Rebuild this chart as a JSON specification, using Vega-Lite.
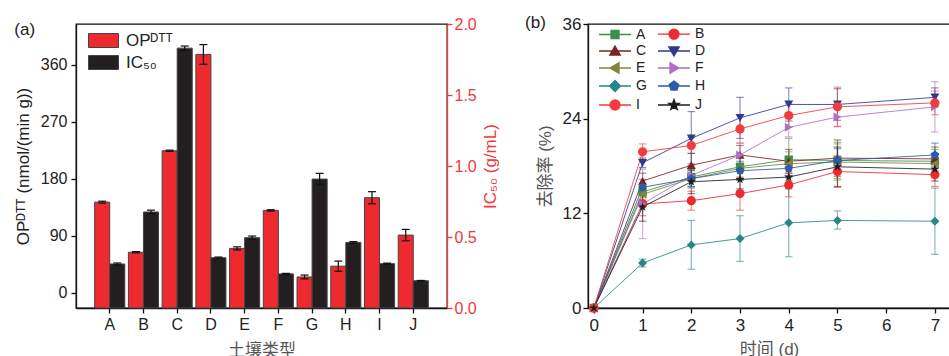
{
  "$schema": "https://vega.github.io/schema/vega-lite/v6.json",
  "padding": {"left": 13, "top": 13, "right": 0, "bottom": 0},
  "config": {
    "font": "Liberation Sans, Noto Sans CJK SC",
    "view": {"stroke": "#111", "strokeWidth": 1.3},
    "axis": {"labelFont": "Liberation Sans, Noto Sans CJK SC", "titleFont": "Liberation Sans, Noto Sans CJK SC", "labelFontSize": 16, "titleFontSize": 17, "titleFontWeight": "normal", "labelColor": "#222", "titleColor": "#222", "domainColor": "#111", "tickColor": "#111", "domainWidth": 1.3, "tickWidth": 1.3, "tickSize": 5, "grid": false},
    "legend": {"labelFont": "Liberation Sans, Noto Sans CJK SC", "labelColor": "#222", "padding": 0},
    "title": {"font": "Liberation Sans", "fontSize": 17, "fontWeight": "normal", "color": "#222"}
  },
  "datasets": {
    "bars": [
      {"soil": "A", "series": "OPᴰᵀᵀ", "v": 143, "lo": 141.5, "hi": 144.5},
      {"soil": "A", "series": "IC₅₀", "v": 0.31, "lo": 0.303, "hi": 0.317},
      {"soil": "B", "series": "OPᴰᵀᵀ", "v": 64, "lo": 63, "hi": 65},
      {"soil": "B", "series": "IC₅₀", "v": 0.676, "lo": 0.663, "hi": 0.689},
      {"soil": "C", "series": "OPᴰᵀᵀ", "v": 224, "lo": 223, "hi": 225},
      {"soil": "C", "series": "IC₅₀", "v": 1.83, "lo": 1.815, "hi": 1.845},
      {"soil": "D", "series": "OPᴰᵀᵀ", "v": 376, "lo": 360.5, "hi": 391.5},
      {"soil": "D", "series": "IC₅₀", "v": 0.354, "lo": 0.349, "hi": 0.359},
      {"soil": "E", "series": "OPᴰᵀᵀ", "v": 70, "lo": 67.5, "hi": 72.5},
      {"soil": "E", "series": "IC₅₀", "v": 0.495, "lo": 0.483, "hi": 0.507},
      {"soil": "F", "series": "OPᴰᵀᵀ", "v": 130, "lo": 129, "hi": 131},
      {"soil": "F", "series": "IC₅₀", "v": 0.24, "lo": 0.236, "hi": 0.244},
      {"soil": "G", "series": "OPᴰᵀᵀ", "v": 25, "lo": 22, "hi": 28},
      {"soil": "G", "series": "IC₅₀", "v": 0.908, "lo": 0.868, "hi": 0.948},
      {"soil": "H", "series": "OPᴰᵀᵀ", "v": 42, "lo": 34, "hi": 50},
      {"soil": "H", "series": "IC₅₀", "v": 0.462, "lo": 0.456, "hi": 0.468},
      {"soil": "I", "series": "OPᴰᵀᵀ", "v": 150, "lo": 140.5, "hi": 159.5},
      {"soil": "I", "series": "IC₅₀", "v": 0.312, "lo": 0.308, "hi": 0.316},
      {"soil": "J", "series": "OPᴰᵀᵀ", "v": 91, "lo": 82, "hi": 100},
      {"soil": "J", "series": "IC₅₀", "v": 0.192, "lo": 0.19, "hi": 0.194}
    ],
    "rem": [
      {"s": "A", "day": 0, "v": 0, "lo": 0, "hi": 0},
      {"s": "A", "day": 1, "v": 14.7, "lo": 13.7, "hi": 15.7},
      {"s": "A", "day": 2, "v": 16.6, "lo": 15.4, "hi": 17.8},
      {"s": "A", "day": 3, "v": 17.9, "lo": 16.4, "hi": 19.4},
      {"s": "A", "day": 4, "v": 18.8, "lo": 16.1, "hi": 21.5},
      {"s": "A", "day": 5, "v": 18.7, "lo": 16.4, "hi": 21.0},
      {"s": "A", "day": 7, "v": 18.6, "lo": 17.1, "hi": 20.1},
      {"s": "B", "day": 0, "v": 0, "lo": 0, "hi": 0},
      {"s": "B", "day": 1, "v": 13.2, "lo": 11.7, "hi": 14.7},
      {"s": "B", "day": 2, "v": 13.6, "lo": 12.4, "hi": 14.8},
      {"s": "B", "day": 3, "v": 14.5, "lo": 12.4, "hi": 16.6},
      {"s": "B", "day": 4, "v": 15.6, "lo": 14.1, "hi": 17.1},
      {"s": "B", "day": 5, "v": 17.3, "lo": 15.3, "hi": 19.3},
      {"s": "B", "day": 7, "v": 16.9, "lo": 15.4, "hi": 18.4},
      {"s": "C", "day": 0, "v": 0, "lo": 0, "hi": 0},
      {"s": "C", "day": 1, "v": 16.1, "lo": 15.1, "hi": 17.1},
      {"s": "C", "day": 2, "v": 18.1, "lo": 16.6, "hi": 19.6},
      {"s": "C", "day": 3, "v": 19.4, "lo": 18.2, "hi": 20.6},
      {"s": "C", "day": 4, "v": 18.6, "lo": 17.1, "hi": 20.1},
      {"s": "C", "day": 5, "v": 19.0, "lo": 16.7, "hi": 21.3},
      {"s": "C", "day": 7, "v": 18.9, "lo": 17.4, "hi": 20.4},
      {"s": "D", "day": 0, "v": 0, "lo": 0, "hi": 0},
      {"s": "D", "day": 1, "v": 18.4, "lo": 17.8, "hi": 19.0},
      {"s": "D", "day": 2, "v": 21.5, "lo": 18.1, "hi": 24.9},
      {"s": "D", "day": 3, "v": 24.1, "lo": 21.5, "hi": 26.7},
      {"s": "D", "day": 4, "v": 25.8, "lo": 23.7, "hi": 27.9},
      {"s": "D", "day": 5, "v": 25.8, "lo": 23.8, "hi": 27.8},
      {"s": "D", "day": 7, "v": 26.7, "lo": 25.5, "hi": 27.9},
      {"s": "E", "day": 0, "v": 0, "lo": 0, "hi": 0},
      {"s": "E", "day": 1, "v": 14.4, "lo": 13.4, "hi": 15.4},
      {"s": "E", "day": 2, "v": 16.4, "lo": 15.2, "hi": 17.6},
      {"s": "E", "day": 3, "v": 17.7, "lo": 16.2, "hi": 19.2},
      {"s": "E", "day": 4, "v": 18.3, "lo": 16.8, "hi": 19.8},
      {"s": "E", "day": 5, "v": 18.5, "lo": 16.2, "hi": 20.8},
      {"s": "E", "day": 7, "v": 18.3, "lo": 17.1, "hi": 19.5},
      {"s": "F", "day": 0, "v": 0, "lo": 0, "hi": 0},
      {"s": "F", "day": 1, "v": 13.2, "lo": 8.8, "hi": 17.6},
      {"s": "F", "day": 2, "v": 16.8, "lo": 15.3, "hi": 18.3},
      {"s": "F", "day": 3, "v": 19.4, "lo": 17.9, "hi": 20.9},
      {"s": "F", "day": 4, "v": 22.9, "lo": 21.7, "hi": 24.1},
      {"s": "F", "day": 5, "v": 24.2, "lo": 23.0, "hi": 25.4},
      {"s": "F", "day": 7, "v": 25.5, "lo": 22.3, "hi": 28.7},
      {"s": "G", "day": 0, "v": 0, "lo": 0, "hi": 0},
      {"s": "G", "day": 1, "v": 5.7, "lo": 5.2, "hi": 6.2},
      {"s": "G", "day": 2, "v": 8.0, "lo": 4.9, "hi": 11.1},
      {"s": "G", "day": 3, "v": 8.8, "lo": 5.9, "hi": 11.7},
      {"s": "G", "day": 4, "v": 10.8, "lo": 6.5, "hi": 15.1},
      {"s": "G", "day": 5, "v": 11.1, "lo": 10.0, "hi": 12.3},
      {"s": "G", "day": 7, "v": 11.0, "lo": 6.8, "hi": 15.2},
      {"s": "H", "day": 0, "v": 0, "lo": 0, "hi": 0},
      {"s": "H", "day": 1, "v": 15.3, "lo": 14.3, "hi": 16.3},
      {"s": "H", "day": 2, "v": 16.4, "lo": 15.4, "hi": 17.4},
      {"s": "H", "day": 3, "v": 17.4, "lo": 16.2, "hi": 18.6},
      {"s": "H", "day": 4, "v": 17.7, "lo": 16.5, "hi": 18.9},
      {"s": "H", "day": 5, "v": 18.7, "lo": 17.2, "hi": 20.2},
      {"s": "H", "day": 7, "v": 19.4, "lo": 17.9, "hi": 20.9},
      {"s": "I", "day": 0, "v": 0, "lo": 0, "hi": 0},
      {"s": "I", "day": 1, "v": 19.8, "lo": 18.8, "hi": 20.8},
      {"s": "I", "day": 2, "v": 20.6, "lo": 19.6, "hi": 21.6},
      {"s": "I", "day": 3, "v": 22.7, "lo": 20.9, "hi": 24.5},
      {"s": "I", "day": 4, "v": 24.4, "lo": 22.9, "hi": 25.9},
      {"s": "I", "day": 5, "v": 25.5, "lo": 23.0, "hi": 28.0},
      {"s": "I", "day": 7, "v": 26.0, "lo": 24.5, "hi": 27.5},
      {"s": "J", "day": 0, "v": 0, "lo": 0, "hi": 0},
      {"s": "J", "day": 1, "v": 12.8, "lo": 11.0, "hi": 14.6},
      {"s": "J", "day": 2, "v": 16.0, "lo": 14.5, "hi": 17.5},
      {"s": "J", "day": 3, "v": 16.3, "lo": 15.1, "hi": 17.5},
      {"s": "J", "day": 4, "v": 16.6, "lo": 15.4, "hi": 17.8},
      {"s": "J", "day": 5, "v": 17.9, "lo": 15.4, "hi": 20.4},
      {"s": "J", "day": 7, "v": 17.6, "lo": 16.1, "hi": 19.1}
    ]
  },
  "spacing": 25,
  "resolve": {"scale": {"color": "independent", "shape": "independent", "stroke": "independent"}},
  "hconcat": [
    {
      "width": 371,
      "height": 284,
      "title": {"text": "(a)", "anchor": "start", "frame": "bounds", "offset": 0, "dy": 23},
      "data": {"name": "bars"},
      "encoding": {
        "x": {"field": "soil", "type": "nominal", "scale": {"paddingInner": 0, "paddingOuter": 0.5}, "axis": {"title": "土壤类型", "labelAngle": 0, "bandPosition": 0.5, "labelPadding": 3, "titlePadding": 10, "titleColor": "#555"}},
        "xOffset": {"field": "series", "type": "nominal", "scale": {"domain": ["OPᴰᵀᵀ", "IC₅₀"], "paddingInner": 0, "paddingOuter": 0.12}}
      },
      "layer": [
        {
          "transform": [{"filter": "datum.series === 'OPᴰᵀᵀ'"}],
          "mark": {"type": "bar", "stroke": "#444", "strokeWidth": 1},
          "encoding": {
            "y": {"field": "v", "type": "quantitative", "scale": {"domain": [-24, 424], "nice": false, "zero": false}, "axis": {"title": "OPᴰᵀᵀ (nmol/(min g))", "values": [0, 90, 180, 270, 360], "labelPadding": 4, "titlePadding": 8}},
            "y2": {"datum": -24},
            "color": {"field": "series", "type": "nominal", "scale": {"domain": ["OPᴰᵀᵀ", "IC₅₀"], "range": ["#ee2a2e", "#231f20"]},
              "legend": {"title": null, "orient": "none", "legendX": 19, "legendY": 8, "symbolType": "M-2.143,-1H2.143V1H-2.143Z", "symbolSize": 196, "labelFontSize": 17, "labelOffset": 14, "rowPadding": 3, "symbolStrokeColor": "#444", "symbolStrokeWidth": 1}}
          }
        },
        {
          "transform": [{"filter": "datum.series === 'OPᴰᵀᵀ'"}],
          "mark": {"type": "rule", "color": "#111", "strokeWidth": 1.2},
          "encoding": {"y": {"field": "lo", "type": "quantitative", "scale": {"domain": [-24, 424], "nice": false, "zero": false}, "axis": null}, "y2": {"field": "hi"}}
        },
        {
          "transform": [{"filter": "datum.series === 'OPᴰᵀᵀ'"}],
          "mark": {"type": "point", "shape": "stroke", "size": 64, "filled": false, "color": "#111", "strokeWidth": 1.2, "opacity": 1},
          "encoding": {"y": {"field": "lo", "type": "quantitative", "scale": {"domain": [-24, 424], "nice": false, "zero": false}, "axis": null}}
        },
        {
          "transform": [{"filter": "datum.series === 'OPᴰᵀᵀ'"}],
          "mark": {"type": "point", "shape": "stroke", "size": 64, "filled": false, "color": "#111", "strokeWidth": 1.2, "opacity": 1},
          "encoding": {"y": {"field": "hi", "type": "quantitative", "scale": {"domain": [-24, 424], "nice": false, "zero": false}, "axis": null}}
        },
        {
          "transform": [{"filter": "datum.series === 'IC₅₀'"}],
          "mark": {"type": "bar", "stroke": "#444", "strokeWidth": 1},
          "encoding": {
            "y": {"field": "v", "type": "quantitative", "scale": {"domain": [0, 2], "nice": false}, "axis": {"orient": "right", "title": "IC₅₀ (g/mL)", "values": [0, 0.5, 1, 1.5, 2], "format": ".1f", "domainColor": "#f0393c", "tickColor": "#f0393c", "labelColor": "#f0393c", "titleColor": "#f0393c", "labelPadding": 2, "titlePadding": 6, "titleAngle": 270, "titleBaseline": "top"}},
            "color": {"field": "series", "type": "nominal", "scale": {"domain": ["OPᴰᵀᵀ", "IC₅₀"], "range": ["#ee2a2e", "#231f20"]}, "legend": null}
          }
        },
        {
          "transform": [{"filter": "datum.series === 'IC₅₀'"}],
          "mark": {"type": "rule", "color": "#111", "strokeWidth": 1.2},
          "encoding": {"y": {"field": "lo", "type": "quantitative", "scale": {"domain": [0, 2], "nice": false}, "axis": null}, "y2": {"field": "hi"}}
        },
        {
          "transform": [{"filter": "datum.series === 'IC₅₀'"}],
          "mark": {"type": "point", "shape": "stroke", "size": 64, "filled": false, "color": "#111", "strokeWidth": 1.2, "opacity": 1},
          "encoding": {"y": {"field": "lo", "type": "quantitative", "scale": {"domain": [0, 2], "nice": false}, "axis": null}}
        },
        {
          "transform": [{"filter": "datum.series === 'IC₅₀'"}],
          "mark": {"type": "point", "shape": "stroke", "size": 64, "filled": false, "color": "#111", "strokeWidth": 1.2, "opacity": 1},
          "encoding": {"y": {"field": "hi", "type": "quantitative", "scale": {"domain": [0, 2], "nice": false}, "axis": null}}
        }
      ],
      "resolve": {"scale": {"y": "independent"}}
    },
    {
      "width": 362,
      "height": 284,
      "title": {"text": "(b)", "anchor": "start", "frame": "bounds", "offset": 0, "dy": 17, "dx": -11},
      "data": {"name": "rem"},
      "encoding": {
        "x": {"field": "day", "type": "quantitative", "scale": {"domain": [-0.12, 7.31], "nice": false, "zero": false}, "axis": {"title": "时间 (d)", "values": [0, 1, 2, 3, 4, 5, 6, 7], "labelPadding": 4, "titlePadding": 8, "titleColor": "#555", "labelFontSize": 17}}
      },
      "layer": [
        {
          "transform": [{"filter": "false"}],
          "mark": {"type": "point", "filled": true, "strokeWidth": 1.3, "opacity": 1},
          "encoding": {
            "y": {"field": "v", "type": "quantitative", "scale": {"domain": [0, 36], "nice": false}, "axis": {"title": "去除率 (%)", "values": [0, 12, 24, 36], "labelPadding": 2, "titlePadding": 8, "titleColor": "#555", "labelFontSize": 17}},
            "color": {"field": "s", "type": "nominal",
              "scale": {"domain": ["A", "C", "E", "G", "I", "B", "D", "F", "H", "J"], "range": ["#3a8f4a", "#7b2222", "#84843a", "#2a8585", "#f03c3c", "#ed2a2e", "#2d3b8e", "#b070c2", "#2c5aa8", "#1e1e1e"]},
              "legend": {"title": null, "orient": "none", "legendX": 20, "legendY": 3, "columns": 2, "columnPadding": 8, "rowPadding": 1, "labelFontSize": 14, "symbolSize": 100, "labelOffset": 14, "symbolStrokeWidth": 1.3}},
            "stroke": {"field": "s", "type": "nominal",
              "scale": {"domain": ["A", "C", "E", "G", "I", "B", "D", "F", "H", "J"], "range": ["#3a8f4a", "#7b2222", "#84843a", "#2a8585", "#f03c3c", "#ed2a2e", "#2d3b8e", "#b070c2", "#2c5aa8", "#1e1e1e"]},
              "legend": {"title": null, "orient": "none", "legendX": 20, "legendY": 3, "columns": 2, "columnPadding": 8, "rowPadding": 1, "labelFontSize": 14, "symbolSize": 100, "labelOffset": 14, "symbolStrokeWidth": 1.3}},
            "shape": {"field": "s", "type": "nominal",
              "scale": {"domain": ["A", "C", "E", "G", "I", "B", "D", "F", "H", "J"], "range": [
                "M-3.2,0H3.2M-0.8,-0.8H0.8V0.8H-0.8Z",
                "M-3.2,0H3.2M0,-1L1.05,0.8L-1.05,0.8Z",
                "M-3.2,0H3.2M-1,0L0.8,-1.05L0.8,1.05Z",
                "M-3.2,0H3.2M0,-1.1L1.1,0L0,1.1L-1.1,0Z",
                "M-3.2,0H3.2M1,0A1,1,0,1,1,-1,0A1,1,0,1,1,1,0Z",
                "M-3.2,0H3.2M1,0A1,1,0,1,1,-1,0A1,1,0,1,1,1,0Z",
                "M-3.2,0H3.2M0,1L1.05,-0.8L-1.05,-0.8Z",
                "M-3.2,0H3.2M1,0L-0.8,-1.05L-0.8,1.05Z",
                "M-3.2,0H3.2M0,-1L0.951,-0.309L0.588,0.809L-0.588,0.809L-0.951,-0.309Z",
                "M-3.2,0H3.2M0,-1.1L0.2645,-0.364L1.046,-0.34L0.428,0.139L0.647,0.89L0,0.45L-0.647,0.89L-0.428,0.139L-1.046,-0.34L-0.2645,-0.364Z"]},
              "legend": {"title": null, "orient": "none", "legendX": 20, "legendY": 3, "columns": 2, "columnPadding": 8, "rowPadding": 1, "labelFontSize": 14, "symbolSize": 100, "labelOffset": 14, "symbolStrokeWidth": 1.3}}
          }
        },
        {
          "mark": {"type": "rule", "opacity": 0.55, "strokeWidth": 1.2},
          "encoding": {"y": {"field": "lo", "type": "quantitative"}, "y2": {"field": "hi"}, "stroke": {"field": "s", "type": "nominal", "legend": null}}
        },
        {
          "mark": {"type": "point", "shape": "stroke", "size": 56, "filled": false, "opacity": 0.55, "strokeWidth": 1.2},
          "encoding": {"y": {"field": "lo", "type": "quantitative"}, "stroke": {"field": "s", "type": "nominal", "legend": null}}
        },
        {
          "mark": {"type": "point", "shape": "stroke", "size": 56, "filled": false, "opacity": 0.55, "strokeWidth": 1.2},
          "encoding": {"y": {"field": "hi", "type": "quantitative"}, "stroke": {"field": "s", "type": "nominal", "legend": null}}
        },
        {
          "mark": {"type": "line", "strokeWidth": 1, "opacity": 0.85},
          "encoding": {"y": {"field": "v", "type": "quantitative"}, "stroke": {"field": "s", "type": "nominal", "legend": null}}
        },
        {"transform": [{"filter": "datum.s === 'A'"}], "mark": {"type": "point", "filled": true, "size": 70, "shape": "square", "opacity": 1}, "encoding": {"y": {"field": "v", "type": "quantitative"}, "color": {"field": "s", "type": "nominal", "legend": null}}},
        {"transform": [{"filter": "datum.s === 'B'"}], "mark": {"type": "point", "filled": true, "size": 85, "shape": "circle", "opacity": 1}, "encoding": {"y": {"field": "v", "type": "quantitative"}, "color": {"field": "s", "type": "nominal", "legend": null}}},
        {"transform": [{"filter": "datum.s === 'C'"}], "mark": {"type": "point", "filled": true, "size": 80, "shape": "triangle-up", "opacity": 1}, "encoding": {"y": {"field": "v", "type": "quantitative"}, "color": {"field": "s", "type": "nominal", "legend": null}}},
        {"transform": [{"filter": "datum.s === 'D'"}], "mark": {"type": "point", "filled": true, "size": 80, "shape": "triangle-down", "opacity": 1}, "encoding": {"y": {"field": "v", "type": "quantitative"}, "color": {"field": "s", "type": "nominal", "legend": null}}},
        {"transform": [{"filter": "datum.s === 'E'"}], "mark": {"type": "point", "filled": true, "size": 80, "shape": "triangle-left", "opacity": 1}, "encoding": {"y": {"field": "v", "type": "quantitative"}, "color": {"field": "s", "type": "nominal", "legend": null}}},
        {"transform": [{"filter": "datum.s === 'F'"}], "mark": {"type": "point", "filled": true, "size": 80, "shape": "triangle-right", "opacity": 1}, "encoding": {"y": {"field": "v", "type": "quantitative"}, "color": {"field": "s", "type": "nominal", "legend": null}}},
        {"transform": [{"filter": "datum.s === 'G'"}], "mark": {"type": "point", "filled": true, "size": 80, "shape": "diamond", "opacity": 1}, "encoding": {"y": {"field": "v", "type": "quantitative"}, "color": {"field": "s", "type": "nominal", "legend": null}}},
        {"transform": [{"filter": "datum.s === 'H'"}], "mark": {"type": "point", "filled": true, "size": 80, "shape": "M0,-1L0.951,-0.309L0.588,0.809L-0.588,0.809L-0.951,-0.309Z", "opacity": 1}, "encoding": {"y": {"field": "v", "type": "quantitative"}, "color": {"field": "s", "type": "nominal", "legend": null}}},
        {"transform": [{"filter": "datum.s === 'I'"}], "mark": {"type": "point", "filled": true, "size": 85, "shape": "circle", "opacity": 1}, "encoding": {"y": {"field": "v", "type": "quantitative"}, "color": {"field": "s", "type": "nominal", "legend": null}}},
        {"transform": [{"filter": "datum.s === 'J'"}], "mark": {"type": "point", "filled": true, "size": 90, "shape": "M0,-1L0.235,-0.324L0.951,-0.309L0.38,0.124L0.588,0.809L0,0.4L-0.588,0.809L-0.38,0.124L-0.951,-0.309L-0.235,-0.324Z", "opacity": 1}, "encoding": {"y": {"field": "v", "type": "quantitative"}, "color": {"field": "s", "type": "nominal", "legend": null}}}
      ]
    }
  ]
}
